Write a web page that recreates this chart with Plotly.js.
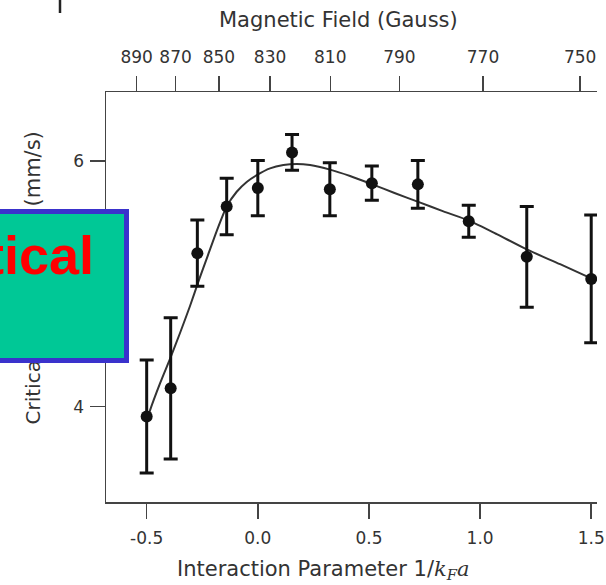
<!DOCTYPE html>
<html>
<head>
<meta charset="utf-8">
<script src="https://cdn.plot.ly/plotly-3.0.1.min.js"></script>
<style>
html,body{margin:0;padding:0;background:#ffffff;}
#chart{width:606px;height:585px;}
</style>
</head>
<body>
<div id="chart"></div>
<script>
// ---- data ----
const interaction = [-0.50, -0.392, -0.272, -0.14, 0.0, 0.154, 0.324, 0.513, 0.72, 0.949, 1.21, 1.50];
const velocity    = [3.92, 4.15, 5.25, 5.63, 5.78, 6.07, 5.77, 5.82, 5.81, 5.51, 5.22, 5.04];
const velocityErr = [0.46, 0.575, 0.27, 0.23, 0.225, 0.145, 0.215, 0.14, 0.195, 0.13, 0.41, 0.52];

const theoryX = [-0.50, -0.485, -0.44, -0.395, -0.35, -0.305, -0.265, -0.225, -0.185, -0.14, -0.095, -0.05, -0.005, 0.055, 0.115, 0.175, 0.235, 0.325, 0.415, 0.515, 0.615, 0.725, 0.835, 0.95, 1.075, 1.21, 1.36, 1.505];
const theoryY = [3.88, 3.97, 4.19, 4.39, 4.60, 4.82, 5.03, 5.23, 5.43, 5.63, 5.75, 5.83, 5.885, 5.94, 5.967, 5.976, 5.967, 5.93, 5.878, 5.81, 5.74, 5.665, 5.59, 5.515, 5.405, 5.28, 5.16, 5.04];

const xTickVals = [-0.5, 0.0, 0.5, 1.0, 1.5];
const xTickText = ['-0.5', '0.0', '0.5', '1.0', '1.5'];
const yTickVals = [4, 6];
const yTickText = ['4', '6'];

const fieldLabels    = ['890', '870', '850', '830', '810', '790', '770', '750'];
const fieldPositions = [-0.545, -0.370, -0.175, 0.055, 0.326, 0.637, 1.013, 1.45];

// ---- layout helpers (plot area in pixels) ----
const W = 606, H = 585;
const L = 106, R = 597, T = 92, B = 502;
const px = v => (v - L) / (R - L);
const py = v => (B - v) / (B - T);

const axisColor = '#444';
const xRange = [-0.683, 1.526];

const traces = [
  {
    x: theoryX, y: theoryY, type: 'scatter', mode: 'lines',
    line: {color: '#333', width: 2, shape: 'spline', smoothing: 0.6},
    hoverinfo: 'skip'
  },
  {
    x: interaction, y: velocity, type: 'scatter', mode: 'markers',
    marker: {color: '#111', size: 12},
    error_y: {type: 'data', array: velocityErr, visible: true, color: '#111', thickness: 3, width: 7}
  },
  {
    x: fieldPositions, y: fieldPositions.map(() => null), xaxis: 'x2', yaxis: 'y',
    type: 'scatter', mode: 'markers', hoverinfo: 'skip', showlegend: false
  }
];

const tickFont = {family: 'DejaVu Sans', size: 17, color: '#333'};

const layout = {
  width: W, height: H,
  margin: {l: L, r: W - R, t: T, b: H - B, pad: 0},
  paper_bgcolor: '#ffffff', plot_bgcolor: '#ffffff',
  showlegend: false,
  font: {family: 'DejaVu Sans', size: 17, color: '#333'},
  xaxis: {
    range: xRange, tickvals: xTickVals, ticktext: xTickText,
    ticks: 'outside', ticklen: 15, tickwidth: 1.5, tickcolor: axisColor,
    showline: true, linecolor: axisColor, linewidth: 1.5, ticklabelstandoff: 5,
    showgrid: false, zeroline: false, tickfont: tickFont
  },
  xaxis2: {
    overlaying: 'x', side: 'top', anchor: 'y', range: xRange,
    tickvals: fieldPositions, ticktext: fieldLabels,
    ticks: 'outside', ticklen: 15, tickwidth: 1.5, tickcolor: axisColor,
    showline: true, linecolor: axisColor, linewidth: 1.5, ticklabelstandoff: 6,
    showgrid: false, zeroline: false, tickfont: tickFont
  },
  yaxis: {
    range: [3.224, 6.562], tickvals: yTickVals, ticktext: yTickText,
    ticks: 'outside', ticklen: 15, tickwidth: 1.5, tickcolor: axisColor,
    showline: true, linecolor: axisColor, linewidth: 1.5, ticklabelstandoff: 2,
    showgrid: false, zeroline: false, tickfont: tickFont
  },
  shapes: [
    {type: 'line', xref: 'paper', yref: 'paper', x0: px(60), x1: px(60), y0: py(0), y1: py(13),
     line: {color: '#222', width: 2.5}}
  ],
  annotations: [
    {text: 'Magnetic Field (Gauss)', xref: 'paper', yref: 'paper', x: px(338), y: py(20),
     xanchor: 'center', yanchor: 'middle', showarrow: false,
     font: {family: 'DejaVu Sans', size: 21, color: '#333'}},
    {text: 'Interaction Parameter 1/<span style="font-family:DejaVu Serif"><i>k</i><sub><i>F</i></sub><i>a</i></span>',
     xref: 'paper', yref: 'paper', x: px(175), y: py(570),
     xanchor: 'left', yanchor: 'middle', showarrow: false,
     font: {family: 'DejaVu Sans', size: 21, color: '#333'}},
    {text: 'Critical Velocity', xref: 'paper', yref: 'paper', x: px(32), y: py(427),
     xanchor: 'center', yanchor: 'bottom', textangle: -90, showarrow: false,
     font: {family: 'DejaVu Sans', size: 20, color: '#333'}},
    {text: '(mm/s)', xref: 'paper', yref: 'paper', x: px(32), y: py(130),
     xanchor: 'center', yanchor: 'top', textangle: -90, showarrow: false,
     font: {family: 'DejaVu Sans', size: 21, color: '#333'}},
    // overlay box
    {text: '\u00a0', xref: 'paper', yref: 'paper', x: px(128.5), y: py(209),
     xanchor: 'right', yanchor: 'top', showarrow: false,
     width: 148.5, height: 144, borderpad: 0, borderwidth: 5,
     bgcolor: '#00C896', bordercolor: '#3A32CC',
     font: {family: 'Liberation Sans', size: 12, color: '#00C896'}},
    {text: '<b>Critical</b>', xref: 'paper', yref: 'paper', x: px(94), y: py(255),
     xanchor: 'right', yanchor: 'middle', showarrow: false, borderpad: 0, borderwidth: 0,
     font: {family: 'Liberation Sans', size: 54, color: '#FF0000'}}
  ]
};

Plotly.newPlot('chart', traces, layout, {staticPlot: true, displayModeBar: false});
</script>
</body>
</html>
